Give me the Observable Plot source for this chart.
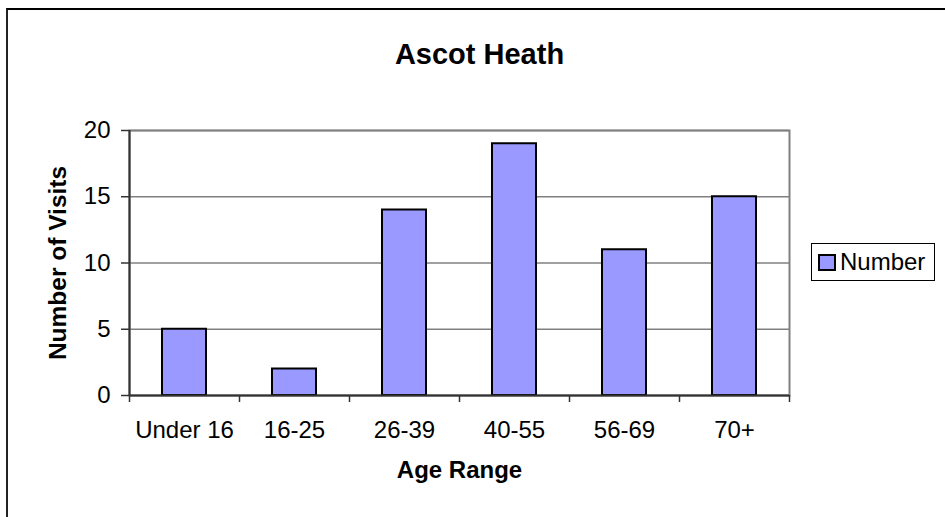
<!DOCTYPE html>
<html>
<head>
<meta charset="utf-8">
<script src="https://cdn.jsdelivr.net/npm/d3@7"></script>
<script src="https://cdn.jsdelivr.net/npm/@observablehq/plot@0.6"></script>
<style>
  html, body { margin: 0; padding: 0; background: #fff; overflow: hidden; }
  #wrap { position: relative; width: 945px; height: 517px; font-family: "Liberation Sans", Arial, sans-serif; }
  #border { position: absolute; left: 6px; top: 8px; width: 1200px; height: 1200px; border-left: 2px solid #222; border-top: 2px solid #000; }
  #legend { position: absolute; left: 811px; top: 243px; width: 122px; height: 36px; border: 1px solid #000; background: #fff; display: flex; align-items: center; font-size: 24px; color: #000; }
  #legend .sw { width: 14px; height: 13px; border: 2px solid #000; background: #9999FF; margin-left: 6px; margin-right: 4px; }
  #ylabel { position: absolute; left: 58px; top: 263px; transform: translate(-50%, -50%) rotate(-90deg); white-space: nowrap; font-size: 24.5px; font-weight: bold; color: #000; line-height: 1; }
  svg { position: absolute; left: 0; top: 0; }
</style>
</head>
<body>
<div id="wrap">
  <div id="border"></div>
  <div id="chart"></div>
  <div id="ylabel"></div>
  <div id="legend"><div class="sw"></div><span id="legtext"></span></div>
</div>
<script>
const categories = ["Under 16", "16-25", "26-39", "40-55", "56-69", "70+"];
const values = [5, 2, 14, 19, 11, 15];
const yTicks = [0, 5, 10, 15, 20];
const seriesName = "Number";
const title = "Ascot Heath";
const xLabel = "Age Range";
const yLabel = "Number of Visits";

document.getElementById("ylabel").textContent = yLabel;
document.getElementById("legtext").textContent = seriesName;

const data = categories.map((c, i) => ({cat: c, i, value: values[i]}));
const bounds = d3.range(categories.length + 1);
const centers = categories.map((c, i) => i + 0.5);
const font = "'Liberation Sans', Arial, sans-serif";

const chart = Plot.plot({
  width: 945,
  height: 517,
  marginLeft: 129,
  marginRight: 156,
  marginTop: 130,
  marginBottom: 122,
  style: {fontFamily: font, fontSize: "24px", color: "#000", background: "transparent"},
  x: {type: "linear", domain: [0, categories.length]},
  y: {domain: [0, 20]},
  marks: [
    Plot.gridY(yTicks, {stroke: "#808080", strokeOpacity: 1, strokeWidth: 1.3}),
    Plot.frame({stroke: "#808080", strokeWidth: 2}),
    Plot.rectY(data, {x1: "i", x2: d => d.i + 1, y: "value", insetLeft: 33, insetRight: 33, fill: "#9999FF", stroke: "#000", strokeWidth: 2}),
    Plot.ruleX([0], {stroke: "#333", strokeWidth: 2}),
    Plot.ruleY([0], {stroke: "#333", strokeWidth: 2}),
    Plot.axisY({ticks: yTicks, tickSize: 8, tickPadding: 11, label: null, fontSize: 24, stroke: "#333", strokeWidth: 1.5}),
    Plot.axisX({ticks: bounds, tickSize: 7, tickFormat: () => "", label: null, stroke: "#333", strokeWidth: 1.5}),
    Plot.axisX({ticks: centers, tickSize: 0, tickPadding: 25, tickFormat: v => categories[Math.floor(v)], label: null, fontSize: 24}),
    Plot.text([title], {frameAnchor: "top", dx: 20, dy: -76, lineAnchor: "middle", fontSize: 29, fontWeight: "bold", fill: "#000"}),
    Plot.text([xLabel], {frameAnchor: "bottom", dy: 75, lineAnchor: "middle", fontSize: 24, fontWeight: "bold", fill: "#000"})
  ]
});
document.getElementById("chart").appendChild(chart);
</script>
</body>
</html>
